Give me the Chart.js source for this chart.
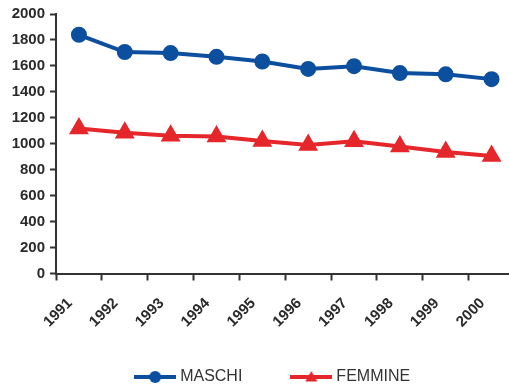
<!DOCTYPE html>
<html>
<head>
<meta charset="utf-8">
<script src="https://cdn.jsdelivr.net/npm/chart.js@4/dist/chart.umd.min.js"></script>
<style>
  html, body { margin: 0; padding: 0; background: #fff; overflow: hidden; }
  #wrap { width: 526px; height: 395px; }
</style>
</head>
<body>
<div id="wrap"><canvas id="c"></canvas></div>
<script>
// Anni e valori per sesso
const years = ['1991','1992','1993','1994','1995','1996','1997','1998','1999','2000'];
const maschi = [1840, 1707, 1699, 1670, 1634, 1577, 1598, 1545, 1535, 1498];
const femmine = [1118, 1084, 1061, 1056, 1022, 991, 1020, 978, 936, 905];
const seriesNames = ['MASCHI', 'FEMMINE'];

const BLUE = '#0c4f9f';
const RED = '#e5262a';
const AXIS = '#333333';
const FONT = '"Liberation Sans", Arial, sans-serif';

// legend symbol: short line with the series marker in the middle
function legendSymbol(color, style) {
  const w = 42, h = 16;
  const cv = document.createElement('canvas');
  cv.width = w; cv.height = h;
  const g = cv.getContext('2d');
  g.strokeStyle = color; g.lineWidth = 4;
  g.beginPath(); g.moveTo(0, h / 2); g.lineTo(w, h / 2); g.stroke();
  g.fillStyle = color;
  g.beginPath();
  if (style === 'circle') {
    g.arc(w / 2, h / 2, 6, 0, Math.PI * 2);
  } else {
    const r = 7, cx = w / 2, cy = h / 2 + 1;
    g.moveTo(cx, cy - r);
    g.lineTo(cx + r * Math.sin(Math.PI * 2 / 3), cy - r * Math.cos(Math.PI * 2 / 3));
    g.lineTo(cx + r * Math.sin(Math.PI * 4 / 3), cy - r * Math.cos(Math.PI * 4 / 3));
    g.closePath();
  }
  g.fill();
  return cv;
}
const symbols = [legendSymbol(BLUE, 'circle'), legendSymbol(RED, 'triangle')];
// trailing blanks space the two legend entries apart
const legendTail = ['         ', '     '];

new Chart(document.getElementById('c'), {
  type: 'line',
  data: {
    labels: years,
    datasets: [
      {
        label: seriesNames[0], data: maschi,
        borderColor: BLUE, backgroundColor: BLUE,
        borderWidth: 4, pointStyle: 'circle', pointRadius: 6, pointHoverRadius: 6,
        tension: 0
      },
      {
        label: seriesNames[1], data: femmine,
        borderColor: RED, backgroundColor: RED,
        borderWidth: 4, pointStyle: 'triangle', pointRadius: 7.5, pointHoverRadius: 7.5,
        tension: 0
      }
    ]
  },
  options: {
    responsive: true,
    maintainAspectRatio: false,
    animation: false,
    events: [],
    layout: { padding: { top: 12.5, left: 6, right: 0, bottom: 0 } },
    scales: {
      x: {
        offset: true,
        grid: { display: true, drawOnChartArea: false, offset: true, drawTicks: true,
                tickLength: 7, tickColor: AXIS, tickWidth: 2 },
        border: { display: true, color: AXIS, width: 2 },
        ticks: {
          minRotation: 45, maxRotation: 45, color: '#2a2a2a', padding: 14, labelOffset: -9,
          font: { family: FONT, size: 15, weight: 'bold' }
        },
        afterFit: (s) => { s.height = 83.5; }
      },
      y: {
        min: 0, max: 2000,
        ticks: {
          stepSize: 200, color: '#2a2a2a', padding: 5,
          font: { family: FONT, size: 15, weight: 'bold' },
          callback: (v) => String(v)
        },
        grid: { display: true, drawOnChartArea: false, drawTicks: true,
                tickLength: 6, tickColor: AXIS, tickWidth: 2 },
        border: { display: true, color: AXIS, width: 2 },
        afterFit: (s) => { s.width = 50; }
      }
    },
    plugins: {
      tooltip: { enabled: false },
      legend: {
        position: 'bottom',
        fullSize: false,
        labels: {
          usePointStyle: true,
          pointStyleWidth: 34,
          padding: 12,
          color: '#333',
          font: { family: FONT, size: 16 },
          generateLabels: (chart) => chart.data.datasets.map((ds, i) => ({
            text: ds.label + legendTail[i],
            fillStyle: ds.borderColor,
            strokeStyle: ds.borderColor,
            fontColor: '#333',
            lineWidth: 0,
            pointStyle: symbols[i],
            hidden: false,
            datasetIndex: i
          }))
        }
      }
    }
  }
});
</script>
</body>
</html>
